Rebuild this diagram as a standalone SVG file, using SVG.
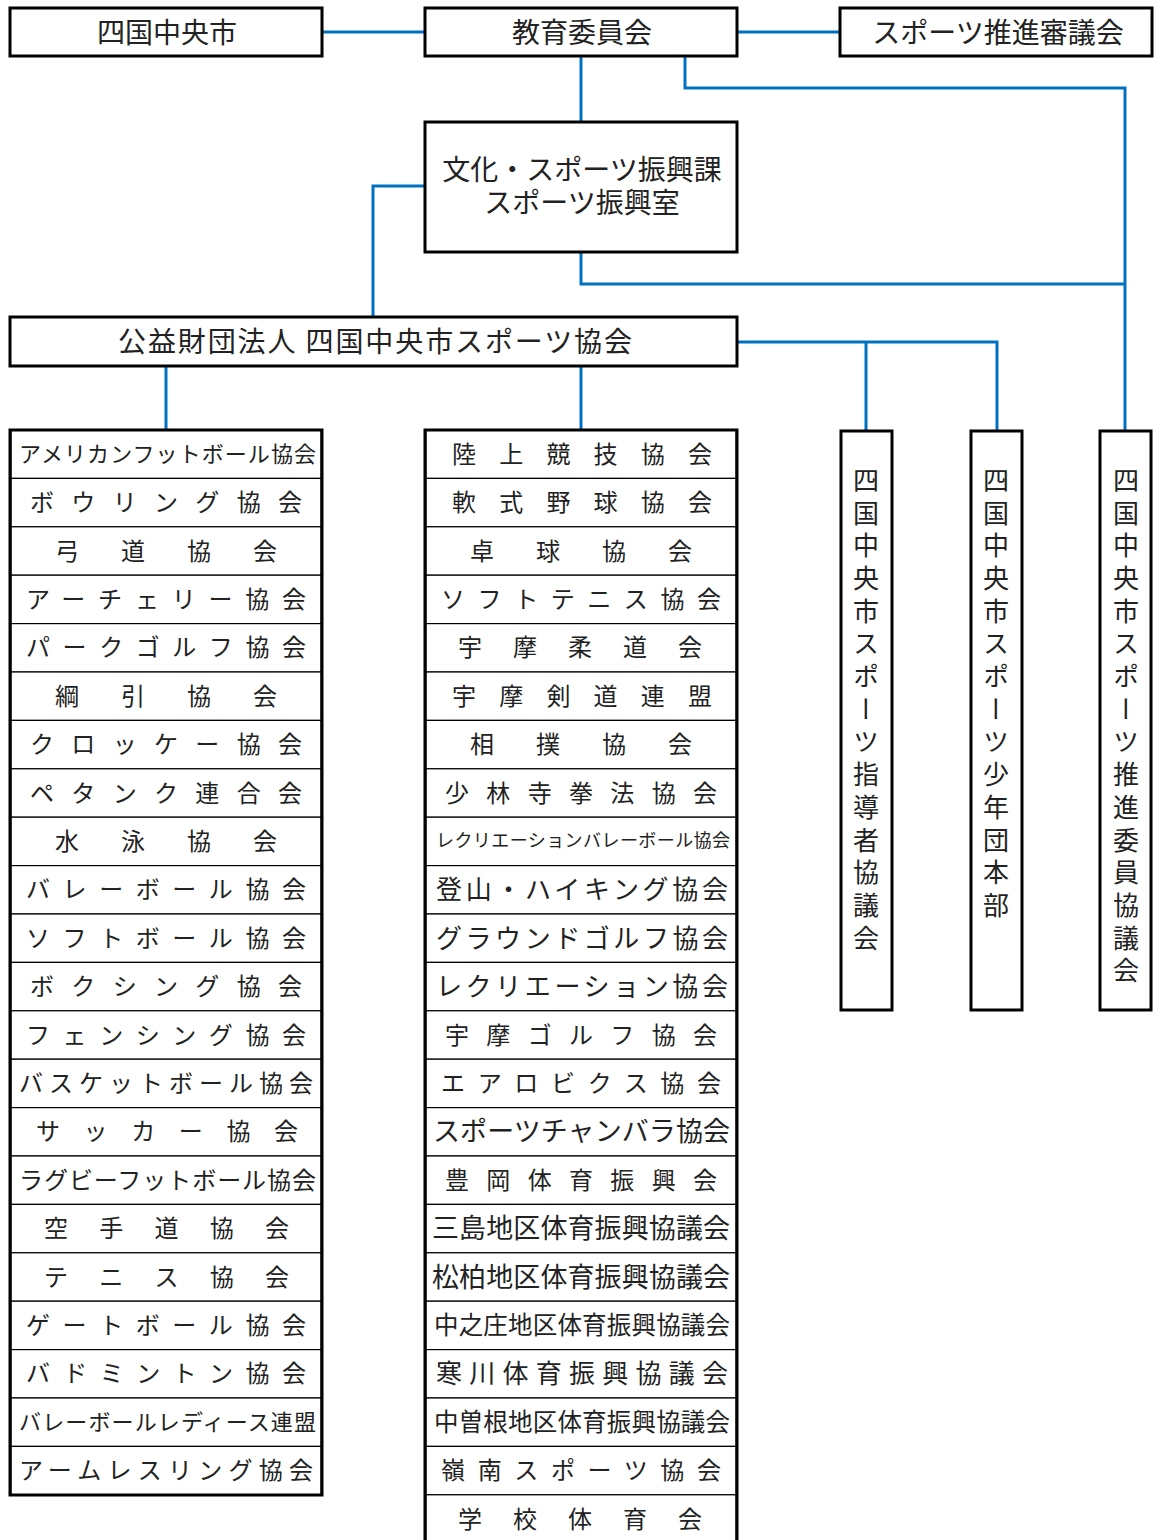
<svg xmlns="http://www.w3.org/2000/svg" width="1154" height="1540" viewBox="0 0 1154 1540">
<style>
text{font-family:"Noto Sans CJK JP","Noto Sans",sans-serif;fill:#222;dominant-baseline:central}
.box{fill:#fff;stroke:#000;stroke-width:3}
.row{fill:#fff;stroke:#000;stroke-width:1.2}
.frame{fill:none;stroke:#000;stroke-width:3}
.conn{fill:none;stroke:#0070C0;stroke-width:3}
.t{font-size:28px;text-anchor:middle}
.r{font-size:24px}
.v{font-size:26px;writing-mode:vertical-rl;letter-spacing:6.7px}
</style>
<rect width="1154" height="1540" fill="#fff"/>
<g id="connectors">
<path class="conn" d="M322 32H425"/>
<path class="conn" d="M737 32H840"/>
<path class="conn" d="M581 56V122"/>
<path class="conn" d="M685 56V88H1125V430"/>
<path class="conn" d="M581 252V284H1125"/>
<path class="conn" d="M425 186H373V317"/>
<path class="conn" d="M737 342H997V430"/>
<path class="conn" d="M866 342V430"/>
<path class="conn" d="M166 366V430"/>
<path class="conn" d="M581 366V430"/>
</g>
<g id="shikokuchuo-city"><rect class="box" x="10" y="8" width="312" height="48"/><text class="t" x="167" y="31">四国中央市</text></g>
<g id="board-of-education"><rect class="box" x="425" y="8" width="312" height="48"/><text class="t" x="582" y="31">教育委員会</text></g>
<g id="sports-council"><rect class="box" x="840" y="8" width="312" height="48"/><text class="t" x="998" y="31">スポーツ推進審議会</text></g>
<g id="culture-sports-division"><rect class="box" x="425" y="122" width="312" height="130"/><text class="t" style="font-size:28px"><tspan x="582" y="168">文化・スポーツ振興課</tspan><tspan x="582" y="201">スポーツ振興室</tspan></text></g>
<g id="sports-association"><rect class="box" x="10" y="317" width="727" height="49"/><text class="t" x="375" y="340" textLength="514" lengthAdjust="spacing">公益財団法人 四国中央市スポーツ協会</text></g>

<g id="left-column">
<g id="l1"><rect class="row" x="11" y="430" width="310" height="48.4"/><text class="r" x="19" y="452" style="font-size:22px" textLength="297" lengthAdjust="spacing">アメリカンフットボール協会</text></g>
<g id="l2"><rect class="row" x="11" y="478.4" width="310" height="48.4"/><text class="r" x="30" y="500.6" textLength="272" lengthAdjust="spacing">ボウリング協会</text></g>
<g id="l3"><rect class="row" x="11" y="526.8" width="310" height="48.4"/><text class="r" x="55" y="549" textLength="222" lengthAdjust="spacing">弓道協会</text></g>
<g id="l4"><rect class="row" x="11" y="575.2" width="310" height="48.4"/><text class="r" x="26" y="597.4" textLength="280" lengthAdjust="spacing">アーチェリー協会</text></g>
<g id="l5"><rect class="row" x="11" y="623.6" width="310" height="48.4"/><text class="r" x="26" y="645.8" textLength="280" lengthAdjust="spacing">パークゴルフ協会</text></g>
<g id="l6"><rect class="row" x="11" y="672" width="310" height="48.4"/><text class="r" x="55" y="694.2" textLength="222" lengthAdjust="spacing">綱引協会</text></g>
<g id="l7"><rect class="row" x="11" y="720.4" width="310" height="48.4"/><text class="r" x="30" y="742.6" textLength="272" lengthAdjust="spacing">クロッケー協会</text></g>
<g id="l8"><rect class="row" x="11" y="768.8" width="310" height="48.4"/><text class="r" x="30" y="791" textLength="272" lengthAdjust="spacing">ペタンク連合会</text></g>
<g id="l9"><rect class="row" x="11" y="817.2" width="310" height="48.4"/><text class="r" x="55" y="839.4" textLength="222" lengthAdjust="spacing">水泳協会</text></g>
<g id="l10"><rect class="row" x="11" y="865.6" width="310" height="48.4"/><text class="r" x="26" y="887.8" textLength="280" lengthAdjust="spacing">バレーボール協会</text></g>
<g id="l11"><rect class="row" x="11" y="914" width="310" height="48.4"/><text class="r" x="26" y="936.2" textLength="280" lengthAdjust="spacing">ソフトボール協会</text></g>
<g id="l12"><rect class="row" x="11" y="962.4" width="310" height="48.4"/><text class="r" x="30" y="984.6" textLength="272" lengthAdjust="spacing">ボクシング協会</text></g>
<g id="l13"><rect class="row" x="11" y="1010.8" width="310" height="48.4"/><text class="r" x="26" y="1033" textLength="280" lengthAdjust="spacing">フェンシング協会</text></g>
<g id="l14"><rect class="row" x="11" y="1059.2" width="310" height="48.4"/><text class="r" x="19" y="1081.4" textLength="294" lengthAdjust="spacing">バスケットボール協会</text></g>
<g id="l15"><rect class="row" x="11" y="1107.6" width="310" height="48.4"/><text class="r" x="36" y="1129.8" textLength="262" lengthAdjust="spacing">サッカー協会</text></g>
<g id="l16"><rect class="row" x="11" y="1156" width="310" height="48.4"/><text class="r" x="19" y="1178.2" textLength="297" lengthAdjust="spacing">ラグビーフットボール協会</text></g>
<g id="l17"><rect class="row" x="11" y="1204.4" width="310" height="48.4"/><text class="r" x="44" y="1226.6" textLength="245" lengthAdjust="spacing">空手道協会</text></g>
<g id="l18"><rect class="row" x="11" y="1252.8" width="310" height="48.4"/><text class="r" x="44" y="1275" textLength="245" lengthAdjust="spacing">テニス協会</text></g>
<g id="l19"><rect class="row" x="11" y="1301.2" width="310" height="48.4"/><text class="r" x="26" y="1323.4" textLength="280" lengthAdjust="spacing">ゲートボール協会</text></g>
<g id="l20"><rect class="row" x="11" y="1349.6" width="310" height="48.4"/><text class="r" x="26" y="1371.8" textLength="280" lengthAdjust="spacing">バドミントン協会</text></g>
<g id="l21"><rect class="row" x="11" y="1398" width="310" height="48.4"/><text class="r" x="19" y="1420.2" style="font-size:22px" textLength="297" lengthAdjust="spacing">バレーボールレディース連盟</text></g>
<g id="l22"><rect class="row" x="11" y="1446.4" width="310" height="48.4"/><text class="r" x="19" y="1468.6" textLength="294" lengthAdjust="spacing">アームレスリング協会</text></g>
<rect class="frame" x="10" y="430" width="312" height="1065"/>
</g>

<g id="middle-column">
<g id="m1"><rect class="row" x="426" y="430" width="310" height="48.4"/><text class="r" x="452" y="452" textLength="260" lengthAdjust="spacing">陸上競技協会</text></g>
<g id="m2"><rect class="row" x="426" y="478.4" width="310" height="48.4"/><text class="r" x="452" y="500.6" textLength="260" lengthAdjust="spacing">軟式野球協会</text></g>
<g id="m3"><rect class="row" x="426" y="526.8" width="310" height="48.4"/><text class="r" x="470" y="549" textLength="222" lengthAdjust="spacing">卓球協会</text></g>
<g id="m4"><rect class="row" x="426" y="575.2" width="310" height="48.4"/><text class="r" x="441" y="597.4" textLength="280" lengthAdjust="spacing">ソフトテニス協会</text></g>
<g id="m5"><rect class="row" x="426" y="623.6" width="310" height="48.4"/><text class="r" x="458" y="645.8" textLength="244" lengthAdjust="spacing">宇摩柔道会</text></g>
<g id="m6"><rect class="row" x="426" y="672" width="310" height="48.4"/><text class="r" x="452" y="694.2" textLength="260" lengthAdjust="spacing">宇摩剣道連盟</text></g>
<g id="m7"><rect class="row" x="426" y="720.4" width="310" height="48.4"/><text class="r" x="470" y="742.6" textLength="222" lengthAdjust="spacing">相撲協会</text></g>
<g id="m8"><rect class="row" x="426" y="768.8" width="310" height="48.4"/><text class="r" x="445" y="791" textLength="272" lengthAdjust="spacing">少林寺拳法協会</text></g>
<g id="m9"><rect class="row" x="426" y="817.2" width="310" height="48.4"/><text class="r" x="436" y="839.4" style="font-size:18px" textLength="294" lengthAdjust="spacing">レクリエーションバレーボール協会</text></g>
<g id="m10"><rect class="row" x="426" y="865.6" width="310" height="48.4"/><text class="r" x="436" y="887.8" style="font-size:26px" textLength="292" lengthAdjust="spacing">登山・ハイキング協会</text></g>
<g id="m11"><rect class="row" x="426" y="914" width="310" height="48.4"/><text class="r" x="436" y="936.2" style="font-size:26px" textLength="292" lengthAdjust="spacing">グラウンドゴルフ協会</text></g>
<g id="m12"><rect class="row" x="426" y="962.4" width="310" height="48.4"/><text class="r" x="436" y="984.6" style="font-size:26px" textLength="292" lengthAdjust="spacing">レクリエーション協会</text></g>
<g id="m13"><rect class="row" x="426" y="1010.8" width="310" height="48.4"/><text class="r" x="445" y="1033" textLength="272" lengthAdjust="spacing">宇摩ゴルフ協会</text></g>
<g id="m14"><rect class="row" x="426" y="1059.2" width="310" height="48.4"/><text class="r" x="441" y="1081.4" textLength="280" lengthAdjust="spacing">エアロビクス協会</text></g>
<g id="m15"><rect class="row" x="426" y="1107.6" width="310" height="48.4"/><text class="r" x="433" y="1129.8" style="font-size:27px" textLength="297" lengthAdjust="spacing">スポーツチャンバラ協会</text></g>
<g id="m16"><rect class="row" x="426" y="1156" width="310" height="48.4"/><text class="r" x="445" y="1178.2" textLength="272" lengthAdjust="spacing">豊岡体育振興会</text></g>
<g id="m17"><rect class="row" x="426" y="1204.4" width="310" height="48.4"/><text class="r" x="432" y="1226.6" style="font-size:27px" textLength="298" lengthAdjust="spacing">三島地区体育振興協議会</text></g>
<g id="m18"><rect class="row" x="426" y="1252.8" width="310" height="48.4"/><text class="r" x="432" y="1275" style="font-size:27px" textLength="298" lengthAdjust="spacing">松柏地区体育振興協議会</text></g>
<g id="m19"><rect class="row" x="426" y="1301.2" width="310" height="48.4"/><text class="r" x="434" y="1323.4" style="font-size:24.5px" textLength="296" lengthAdjust="spacing">中之庄地区体育振興協議会</text></g>
<g id="m20"><rect class="row" x="426" y="1349.6" width="310" height="48.4"/><text class="r" x="436" y="1371.8" style="font-size:26px" textLength="292" lengthAdjust="spacing">寒川体育振興協議会</text></g>
<g id="m21"><rect class="row" x="426" y="1398" width="310" height="48.4"/><text class="r" x="434" y="1420.2" style="font-size:24.5px" textLength="296" lengthAdjust="spacing">中曽根地区体育振興協議会</text></g>
<g id="m22"><rect class="row" x="426" y="1446.4" width="310" height="48.4"/><text class="r" x="441" y="1468.6" textLength="280" lengthAdjust="spacing">嶺南スポーツ協会</text></g>
<g id="m23"><rect class="row" x="426" y="1494.8" width="310" height="60"/><text class="r" x="458" y="1517" textLength="244" lengthAdjust="spacing">学校体育会</text></g>
<rect class="frame" x="425" y="430" width="312" height="1130"/>
</g>

<g id="sports-leaders"><rect class="box" x="841" y="431" width="51" height="579"/><text class="v" x="866" y="467">四国中央市スポーツ指導者協議会</text></g>
<g id="sports-youth"><rect class="box" x="971" y="431" width="51" height="579"/><text class="v" x="996" y="467">四国中央市スポーツ少年団本部</text></g>
<g id="sports-promotion"><rect class="box" x="1100" y="431" width="51" height="579"/><text class="v" x="1126" y="467">四国中央市スポーツ推進委員協議会</text></g>
</svg>
